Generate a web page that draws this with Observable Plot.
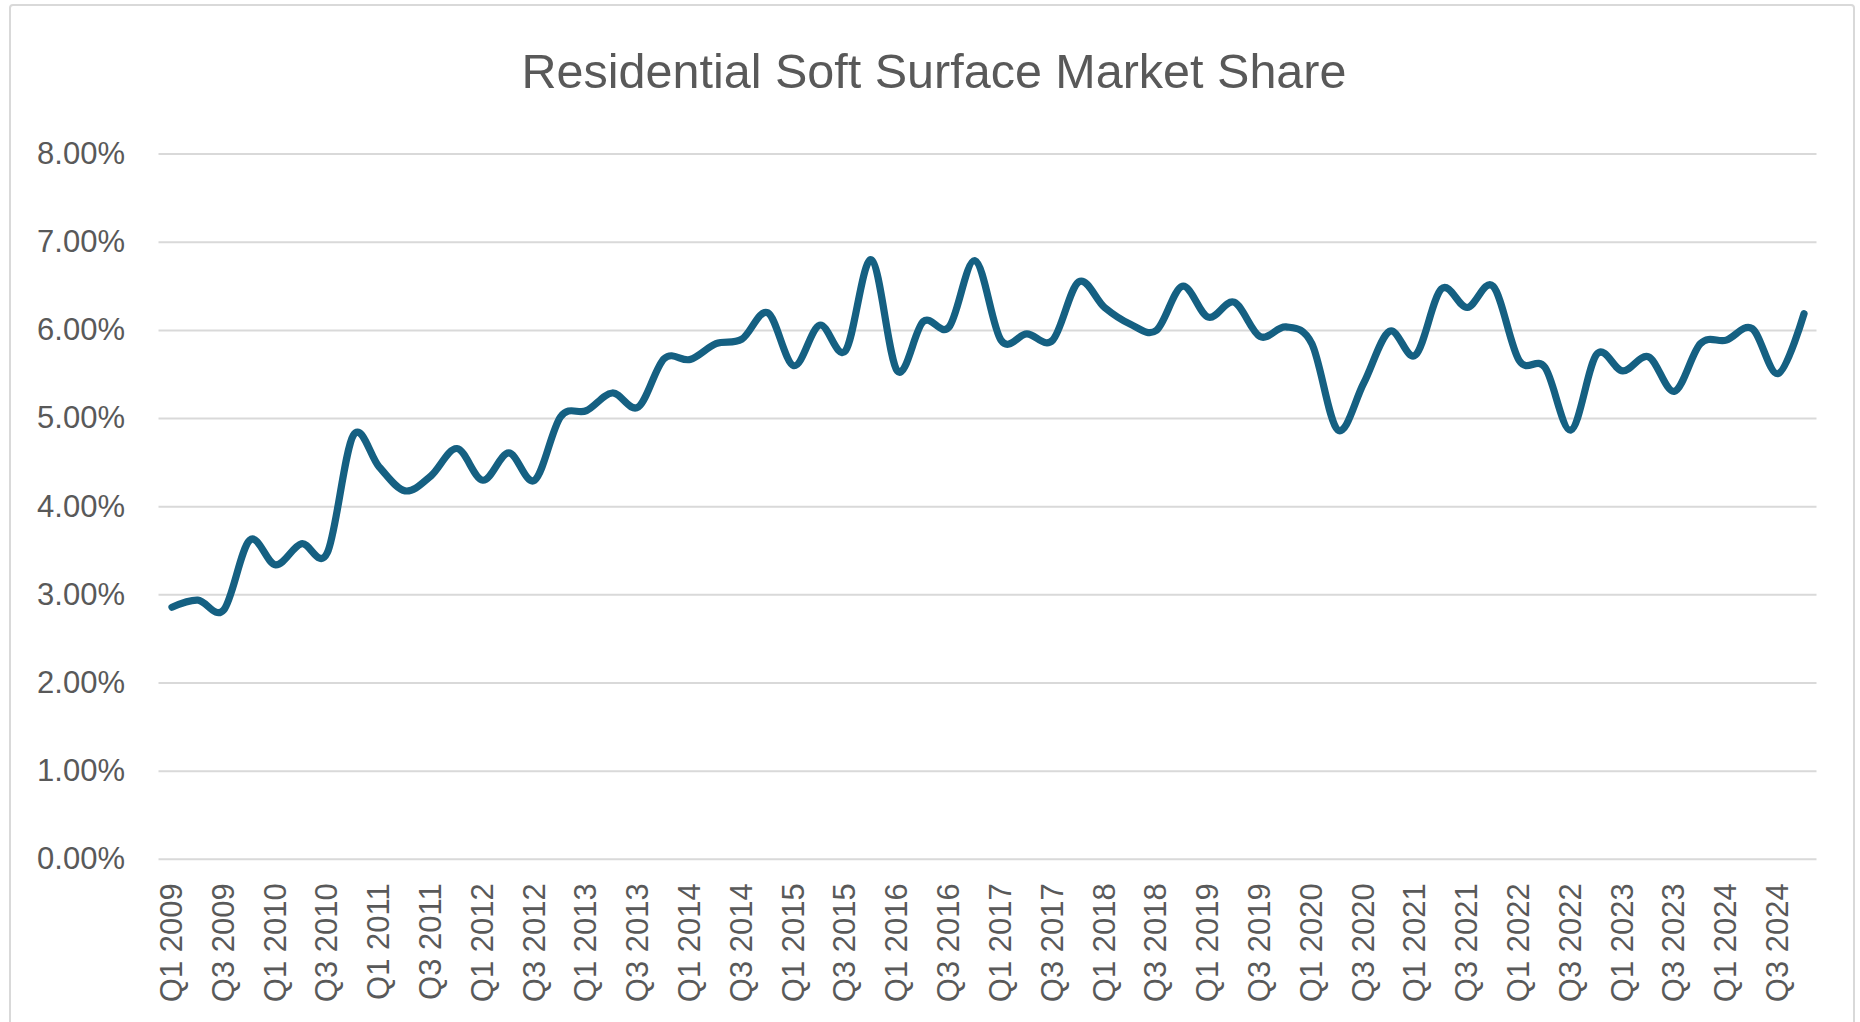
<!DOCTYPE html>
<html>
<head>
<meta charset="utf-8">
<script src="https://cdn.jsdelivr.net/npm/d3@7"></script>
<script src="https://cdn.jsdelivr.net/npm/@observablehq/plot@0.6"></script>
<style>
  html, body { margin: 0; padding: 0; background: #fff; width: 1860px; height: 1022px; overflow: hidden; }
  #frame { position: absolute; left: 9px; top: 4px; width: 1846px; height: 1100px; border: 2px solid #d9d9d9; border-radius: 4px; box-sizing: border-box; pointer-events: none; }
  #title { position: relative; height: 120px; box-sizing: border-box; padding-top: 47px; width: 1868px; text-align: center;
           font-family: "Liberation Sans", Arial, sans-serif; font-size: 48.5px; line-height: 48px; color: #595959; }
  #chart svg { display: block; }
</style>
</head>
<body>
<div id="frame"></div>
<div id="title">Residential Soft Surface Market Share</div>
<div id="chart"></div>
<script>
const quarters = [
  "Q1 2009","Q2 2009","Q3 2009","Q4 2009",
  "Q1 2010","Q2 2010","Q3 2010","Q4 2010",
  "Q1 2011","Q2 2011","Q3 2011","Q4 2011",
  "Q1 2012","Q2 2012","Q3 2012","Q4 2012",
  "Q1 2013","Q2 2013","Q3 2013","Q4 2013",
  "Q1 2014","Q2 2014","Q3 2014","Q4 2014",
  "Q1 2015","Q2 2015","Q3 2015","Q4 2015",
  "Q1 2016","Q2 2016","Q3 2016","Q4 2016",
  "Q1 2017","Q2 2017","Q3 2017","Q4 2017",
  "Q1 2018","Q2 2018","Q3 2018","Q4 2018",
  "Q1 2019","Q2 2019","Q3 2019","Q4 2019",
  "Q1 2020","Q2 2020","Q3 2020","Q4 2020",
  "Q1 2021","Q2 2021","Q3 2021","Q4 2021",
  "Q1 2022","Q2 2022","Q3 2022","Q4 2022",
  "Q1 2023","Q2 2023","Q3 2023","Q4 2023",
  "Q1 2024","Q2 2024","Q3 2024","Q4 2024"
];

// Market share, percent
const share = [
  2.86, 2.94, 2.83, 3.62,
  3.34, 3.58, 3.48, 4.81,
  4.45, 4.18, 4.35, 4.66,
  4.30, 4.61, 4.30, 5.02,
  5.09, 5.29, 5.13, 5.68,
  5.67, 5.85, 5.90, 6.20,
  5.60, 6.06, 5.77, 6.80,
  5.54, 6.10, 6.04, 6.79,
  5.89, 5.96, 5.89, 6.55,
  6.26, 6.07, 6.00, 6.50,
  6.15, 6.32, 5.93, 6.04,
  5.85, 4.87, 5.40, 5.99,
  5.72, 6.47, 6.26, 6.50,
  5.66, 5.58, 4.87, 5.73,
  5.54, 5.70, 5.31, 5.85,
  5.89, 6.02, 5.51, 6.19
];

const tickLabels = [
  "Q1 2009","Q3 2009","Q1 2010","Q3 2010","Q1 2011","Q3 2011","Q1 2012","Q3 2012",
  "Q1 2013","Q3 2013","Q1 2014","Q3 2014","Q1 2015","Q3 2015","Q1 2016","Q3 2016",
  "Q1 2017","Q3 2017","Q1 2018","Q3 2018","Q1 2019","Q3 2019","Q1 2020","Q3 2020",
  "Q1 2021","Q3 2021","Q1 2022","Q3 2022","Q1 2023","Q3 2023","Q1 2024","Q3 2024"
];

const yTicks = [0, 1, 2, 3, 4, 5, 6, 7, 8];

const data = quarters.map((q, i) => ({quarter: q, value: share[i]}));

const chart = Plot.plot({
  width: 1860,
  height: 902,
  marginLeft: 158.5,
  marginRight: 43.5,
  marginTop: 33.6,
  marginBottom: 163.2,
  style: {fontFamily: "'Liberation Sans', Arial, sans-serif", color: "#595959", background: "transparent"},
  x: {type: "point", domain: quarters, padding: 0.5},
  y: {domain: [0, 8]},
  marks: [
    Plot.gridY(yTicks, {stroke: "#d9d9d9", strokeOpacity: 1, strokeWidth: 2}),
    Plot.axisY(yTicks, {tickSize: 0, tickPadding: 34, fontSize: 31, label: null,
      tickFormat: d => d.toFixed(2) + "%", fill: "#595959"}),
    Plot.axisX(tickLabels, {tickSize: 0, tickPadding: 24, tickRotate: -90, fontSize: 31, label: null, fill: "#595959"}),
    Plot.line(data, {x: "quarter", y: "value", stroke: "#156082", strokeWidth: 7.2,
      curve: "cardinal", strokeLinecap: "round", strokeLinejoin: "round"})
  ]
});
document.getElementById("chart").appendChild(chart);
</script>
</body>
</html>
